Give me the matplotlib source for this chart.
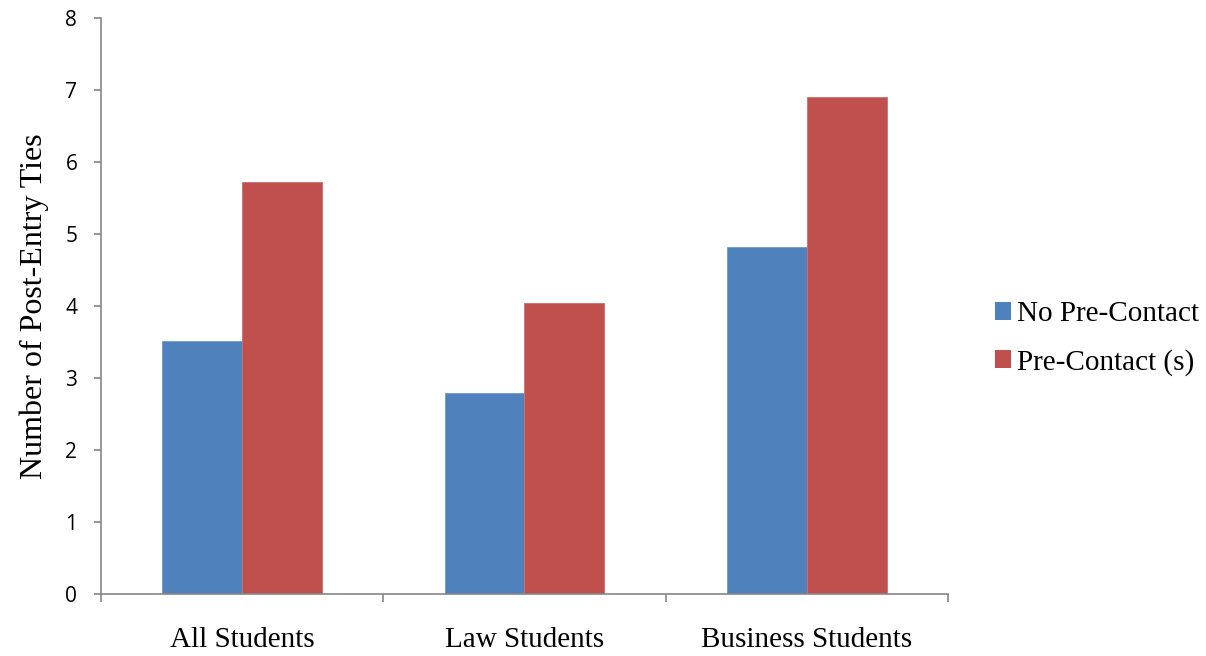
"""Grouped bar chart: post-entry ties by pre-contact status."""

import matplotlib.pyplot as plt
import numpy as np
from matplotlib.patches import Patch

categories = ["All Students", "Law Students", "Business Students"]
series_names = ["No Pre-Contact", "Pre-Contact (s)"]
no_pre_contact = [3.51, 2.79, 4.82]
pre_contact = [5.72, 4.04, 6.90]
y_ticks = [0, 1, 2, 3, 4, 5, 6, 7, 8]

BLUE = "#4F81BD"
RED = "#C0504D"
AXIS_GREY = "#868686"
SERIF = ["Liberation Serif", "DejaVu Serif"]

fig = plt.figure(figsize=(12.06, 6.56), dpi=100)
ax = fig.add_axes([0.0837, 0.0945, 0.7023, 0.8781])

x = np.arange(len(categories))
width = 0.283
ax.bar(x - width / 2, no_pre_contact, width, color=BLUE, edgecolor="#6E98CC", linewidth=0.6)
ax.bar(x + width / 2, pre_contact, width, color=RED, edgecolor="#CE6E6B", linewidth=0.6)

ax.set_xlim(-0.5, len(categories) - 0.5)
ax.set_ylim(0, 8)
ax.set_yticks(y_ticks)
ax.set_yticklabels([str(t) for t in y_ticks], fontsize=15, family=["Open Sans", "DejaVu Sans"])

# category labels centred, ticks on the category boundaries
ax.set_xticks(np.arange(len(categories) + 1) - 0.5)
ax.set_xticklabels([])
ax.set_xticks(x, minor=True)
ax.set_xticklabels(categories, minor=True, fontsize=21, family=SERIF)
ax.tick_params(axis="x", which="minor", length=0, pad=24)
ax.tick_params(axis="x", which="major", length=6, width=1.2, color=AXIS_GREY, direction="out")
ax.tick_params(axis="y", length=5, width=1.2, color=AXIS_GREY, direction="out", pad=12)

for side in ("top", "right"):
    ax.spines[side].set_visible(False)
for side in ("left", "bottom"):
    ax.spines[side].set_color(AXIS_GREY)
    ax.spines[side].set_linewidth(1.2)

ax.set_ylabel("Number of Post-Entry Ties", fontsize=23, family=SERIF, labelpad=12)

handles = [Patch(facecolor=BLUE), Patch(facecolor=RED)]
fig.legend(
    handles,
    series_names,
    loc="center left",
    bbox_to_anchor=(0.825, 0.484),
    frameon=False,
    prop={"family": SERIF, "size": 21},
    handlelength=0.55,
    handleheight=0.55,
    handletextpad=0.2,
    labelspacing=0.75,
    borderaxespad=0,
    borderpad=0,
)

fig.savefig("out.png", dpi=100)
plt.close(fig)
